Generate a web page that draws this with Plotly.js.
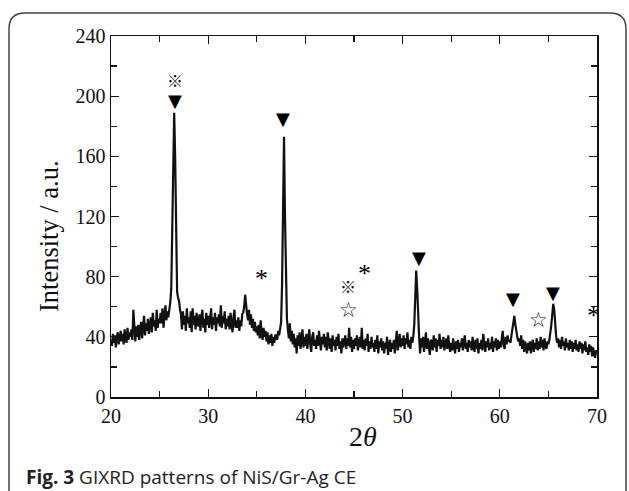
<!DOCTYPE html>
<html>
<head>
<meta charset="utf-8">
<script src="https://cdn.plot.ly/plotly-3.0.1.min.js"></script>
<style>html,body{margin:0;padding:0;background:#fff;}#chart{width:629px;height:491px;}</style>
</head>
<body>
<div id="chart"></div>
<script>
// Scan grid (2θ) of the measured pattern
const twoThetaStart = 20;
const twoThetaStep = 0.1;

// Intensity (a.u.), one value per 0.1° from 20 to 70
const intensity = [
 38,34,42,36,41,33,40,43,35,41,
 44,37,42,35,45,39,36,46,38,43,
 40,45,38,58,44,37,47,40,48,38,
 45,50,39,48,54,41,49,44,52,42,
 47,53,43,56,47,51,44,58,46,52,
 49,56,49,59,46,55,61,51,57,53,
 58,63,72,110,175,189,160,95,70,66,
 64,58,55,45,57,48,54,44,59,49,
 53,46,57,43,59,48,54,45,56,49,
 47,55,44,53,58,46,52,43,56,48,
 54,46,52,59,45,53,48,56,44,53,
 49,55,47,61,46,54,49,57,45,52,
 47,54,45,56,49,43,53,58,46,51,
 46,53,44,51,47,55,56,60,68,58,
 55,51,58,48,55,46,52,44,50,43,
 47,41,48,39,51,42,38,46,40,44,
 37,43,35,41,36,42,34,40,36,41,
 41,38,44,41,47,50,75,140,173,120,
 70,52,45,39,49,37,44,35,42,33,
 39,29,41,34,43,32,38,45,33,40,
 34,42,32,39,45,35,30,40,43,34,
 38,32,41,34,44,37,31,40,35,42,
 33,40,31,43,35,32,39,30,41,34,
 38,31,40,34,42,32,37,29,39,33,
 37,41,32,39,34,46,33,40,30,38,
 32,39,34,41,31,37,40,33,46,32,
 38,31,39,34,42,30,37,32,40,33,
 36,30,38,32,41,29,37,33,39,31,
 37,29,36,32,40,28,35,38,30,36,
 32,38,29,40,44,31,37,42,33,39,
 34,41,32,39,35,43,33,38,32,40,
 36,40,48,70,84,72,50,40,29,39,
 33,40,30,37,43,32,39,34,28,38,
 37,31,41,33,39,30,38,34,42,32,
 38,33,40,31,37,39,32,41,34,30,
 36,31,39,33,29,37,32,38,30,36,
 33,39,31,37,41,32,36,30,38,33,
 37,31,40,33,30,38,32,39,29,36,
 32,38,31,42,34,30,37,33,39,31,
 36,32,40,30,37,33,39,31,38,32,
 37,33,39,44,34,32,40,35,41,37,
 38,36,41,45,50,54,48,42,40,37,
 39,34,41,32,38,30,37,33,29,36,
 31,37,29,35,38,30,36,32,39,31,
 37,32,40,33,38,31,39,34,32,37,
 35,38,42,48,55,62,58,48,40,36,
 39,33,38,32,40,34,37,31,39,33,
 36,31,38,32,37,30,36,32,38,31,
 35,30,37,32,36,29,35,31,37,30,
 33,28,35,30,34,27,33,29,26,31,
 29
];

// Phase markers (position 2θ, height)
const triangleX = [26.54, 37.7, 51.65, 61.36, 65.5];
const triangleY = [197, 185, 93, 65.4, 69.8];
const refMarkX = [26.54, 44.4];
const refMarkY = [211, 73.8];
const asteriskX = [35.5, 46.1, 69.6];
const asteriskY = [83, 86.4, 58.1];
const starX = [44.4, 64.0];
const starY = [58.1, 51];

// Tick labels
const xTicks = [20, 30, 40, 50, 60, 70];
const yTicks = [0, 40, 80, 120, 160, 200, 240];

const serif = 'Liberation Serif, Times New Roman, serif';

const annotations = [];
function addMarks(xs, ys, txt, font, yshift) {
  xs.forEach((x, i) => annotations.push({
    x: x, y: ys[i], xref: 'x', yref: 'y', text: txt, showarrow: false,
    xanchor: 'center', yanchor: 'middle', yshift: yshift || 0,
    font: font
  }));
}
addMarks(triangleX, triangleY, '\u25BC', {family: 'DejaVu Sans', size: 18, color: '#000'}, 0);
addMarks(refMarkX, refMarkY, '\u203B', {family: 'Noto Sans CJK JP, DejaVu Sans', size: 16, color: '#111'}, 0);
addMarks(asteriskX, asteriskY, '*', {family: serif, size: 26, color: '#000'}, -6);
addMarks(starX, starY, '\u2606', {family: 'DejaVu Sans', size: 21, color: '#222'}, 0);

// axis titles placed as in the reference
annotations.push({
  xref: 'paper', yref: 'paper', x: (49 - 111) / 486, y: (397 - 236) / 361,
  xanchor: 'center', yanchor: 'middle', textangle: -90, showarrow: false,
  text: 'Intensity / a.u.', font: {family: serif, size: 26.5, color: '#111'}
});
annotations.push({
  xref: 'paper', yref: 'paper', x: (363 - 111) / 486, y: (397 - 436) / 361,
  xanchor: 'center', yanchor: 'middle', showarrow: false,
  text: '2<i>θ</i>', font: {family: serif, size: 28, color: '#111'}
});

// caption
annotations.push({
  xref: 'paper', yref: 'paper', x: (24 - 111) / 486, y: (397 - 477) / 361,
  xanchor: 'left', yanchor: 'middle', showarrow: false,
  text: '<b>Fig. 3</b> GIXRD patterns of NiS/Gr-Ag CE',
  font: {family: 'Open Sans, Noto Sans, sans-serif', size: 19, color: '#222'}
});

// rounded frame of the figure panel (paper units)
const fl = (9 - 111) / 486, fr = (626 - 111) / 486;
const ft = (397 - 13) / 361, fb = (397 - 500) / 361;
const rx = 16 / 486, ry = 16 / 361;
const framePath = `M ${fl},${fb} L ${fl},${ft - ry} Q ${fl},${ft} ${fl + rx},${ft} L ${fr - rx},${ft} Q ${fr},${ft} ${fr},${ft - ry} L ${fr},${fb}`;

const trace = {
  type: 'scatter', mode: 'lines',
  x0: twoThetaStart, dx: twoThetaStep, y: intensity,
  line: {color: '#111', width: 2.2},
  hoverinfo: 'skip'
};

const axisCommon = {
  showgrid: false, zeroline: false, showline: true, linecolor: '#111', linewidth: 1.5,
  mirror: 'ticks', ticks: 'inside', ticklen: 8, tickwidth: 1.3, tickcolor: '#111',
  tickfont: {family: serif, size: 20, color: '#111'}, automargin: false
};

const layout = {
  width: 629, height: 491,
  margin: {l: 111, r: 32, t: 36, b: 94},
  paper_bgcolor: '#fff', plot_bgcolor: '#fff',
  showlegend: false,
  xaxis: Object.assign({}, axisCommon, {
    range: [20, 70], tickvals: xTicks, ticktext: xTicks.map(String),
    minor: {dtick: 5, tick0: 20, ticks: 'inside', ticklen: 6, tickwidth: 1.2, tickcolor: '#111'}
  }),
  yaxis: Object.assign({}, axisCommon, {
    range: [0, 240], tickvals: yTicks, ticktext: yTicks.map(String),
    minor: {dtick: 20, tick0: 0, ticks: 'inside', ticklen: 6, tickwidth: 1.2, tickcolor: '#111'}
  }),
  annotations: annotations,
  shapes: [{type: 'path', xref: 'paper', yref: 'paper', path: framePath,
            line: {color: '#444', width: 1.5}}]
};

Plotly.newPlot('chart', [trace], layout, {displayModeBar: false, staticPlot: true});
</script>
</body>
</html>
